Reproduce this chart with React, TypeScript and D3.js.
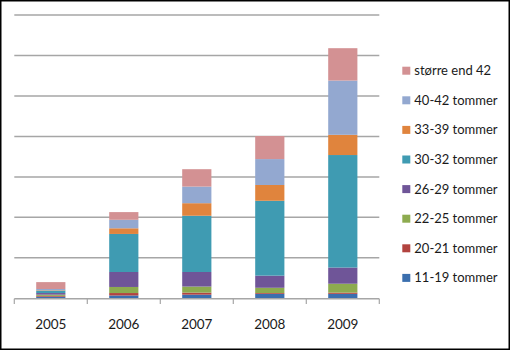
import React, { useRef, useEffect } from 'react';
import * as d3 from 'd3';

const years = ['2005', '2006', '2007', '2008', '2009'];
// series from bottom to top of each stack
const seriesNames = [
  '11-19 tommer',
  '20-21 tommer',
  '22-25 tommer',
  '26-29 tommer',
  '30-32 tommer',
  '33-39 tommer',
  '40-42 tommer',
  'større end 42',
];
const s11_19 = [4, 7, 9, 11, 11];
const s20_21 = [2, 6, 5, 2, 3];
const s22_25 = [3, 15, 15, 13, 22];
const s26_29 = [4, 37, 36, 30, 40];
const s30_32 = [6, 94, 139, 185, 278];
const s33_39 = [1, 14, 31, 39, 50];
const s40_42 = [3, 21, 41, 64, 134];
const sOver42 = [17, 19, 43, 57, 80];
const yTicks = [0, 100, 200, 300, 400, 500, 600, 700];

const colors = ['#3b6fae', '#b2433f', '#8dab4f', '#6f5598', '#3f9bb2', '#e0843d', '#93a8d0', '#d39193'];

export default function App() {
  const ref = useRef<SVGSVGElement>(null);

  useEffect(() => {
    const W = 510, H = 350;
    const svg = d3.select(ref.current);
    svg.selectAll('*').remove();

    const values = [s11_19, s20_21, s22_25, s26_29, s30_32, s33_39, s40_42, sOver42];
    const rows = years.map((yr, i) => {
      const r: any = { year: yr };
      seriesNames.forEach((n, k) => (r[n] = values[k][i]));
      return r;
    });
    const stacked = d3.stack().keys(seriesNames)(rows);

    const x = d3.scaleBand().domain(years).range([14.3, 379.3]).paddingInner(0.6).paddingOuter(0.3);
    const y = d3.scaleLinear().domain([0, 700]).range([298.3, 15]);

    svg.append('rect').attr('x', 0.5).attr('y', 0.5).attr('width', W - 1).attr('height', H - 1)
      .attr('fill', 'white').attr('stroke', '#000').attr('stroke-width', 2);

    // gridlines
    svg.append('g').selectAll('line').data(yTicks.slice(1)).join('line')
      .attr('x1', 14.3).attr('x2', 379.3)
      .attr('y1', d => y(d)).attr('y2', d => y(d))
      .attr('stroke', '#a6a6a6').attr('stroke-width', 1.5);

    // bars
    svg.append('g').selectAll('g').data(stacked).join('g')
      .attr('fill', (d, i) => colors[i])
      .selectAll('rect').data(d => d).join('rect')
      .attr('x', d => x((d as any).data.year)!)
      .attr('width', x.bandwidth())
      .attr('y', d => y(d[1]))
      .attr('height', d => y(d[0]) - y(d[1]));

    // x axis
    const edges = d3.range(years.length + 1).map(i => 14.3 + (i * 365) / years.length);
    const ax = svg.append('g');
    ax.append('line').attr('x1', 14.3).attr('x2', 379.3).attr('y1', 298.8).attr('y2', 298.8)
      .attr('stroke', '#a6a6a6').attr('stroke-width', 1.5);
    ax.selectAll('line.tick').data(edges).join('line').attr('class', 'tick')
      .attr('x1', d => d).attr('x2', d => d).attr('y1', 298.8).attr('y2', 304)
      .attr('stroke', '#a6a6a6').attr('stroke-width', 1.2);
    ax.selectAll('text').data(years).join('text')
      .attr('x', d => x(d)! + x.bandwidth() / 2).attr('y', 329)
      .attr('text-anchor', 'middle').attr('font-family', 'Lato, sans-serif').attr('font-size', 13.5)
      .attr('fill', '#1a1a1a').text(d => d);

    // legend
    const legend = svg.append('g');
    const order = seriesNames.map((n, i) => ({ n, i })).reverse();
    const lg = legend.selectAll('g').data(order).join('g')
      .attr('transform', (d, j) => `translate(402.3, ${70.7 + j * 29.6})`);
    lg.append('rect').attr('x', 0).attr('y', -4).attr('width', 8).attr('height', 8)
      .attr('fill', d => colors[d.i]);
    lg.append('text').attr('x', 12).attr('y', 0).attr('dy', '0.35em')
      .attr('font-family', 'Lato, sans-serif').attr('font-size', 13).attr('fill', '#1a1a1a')
      .text(d => d.n);
  }, []);

  return (
    <svg ref={ref} width={510} height={350}
      style={{ position: 'fixed', left: 0, top: 0, display: 'block' }} />
  );
}
